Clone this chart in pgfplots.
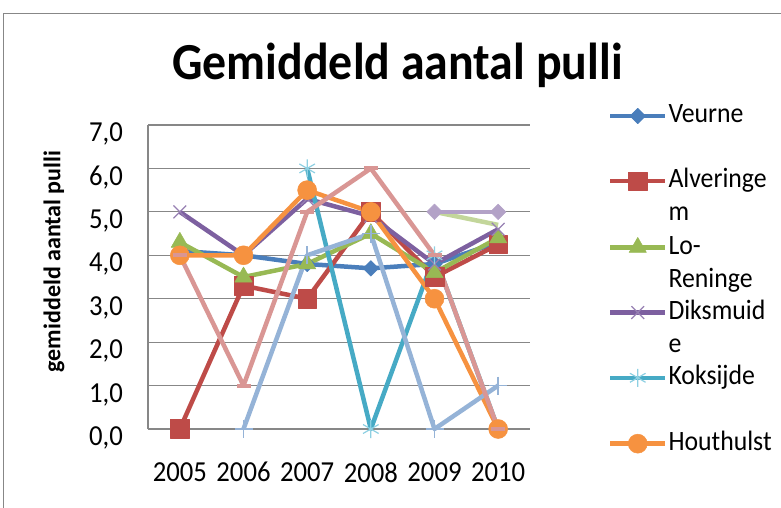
\documentclass[border=0pt]{standalone}
\usepackage{fontspec}
\setmainfont{Carlito}[FakeStretch=0.92]
\newfontfamily\ylabfont{Carlito}
\usepackage{pgfplots}
\pgfplotsset{compat=1.18}
\definecolor{cVeurne}{HTML}{4A7EBB}
\definecolor{cAlver}{HTML}{BE4B48}
\definecolor{cLo}{HTML}{98B954}
\definecolor{cDiks}{HTML}{7D60A0}
\definecolor{cKoks}{HTML}{46AAC5}
\definecolor{cKoksM}{HTML}{8ED0E2}
\definecolor{cHout}{HTML}{F69240}
\definecolor{cS7}{HTML}{95B3D7}
\definecolor{cS8}{HTML}{D99694}
\definecolor{cS9}{HTML}{C3D69B}
\definecolor{cS10}{HTML}{B3A2C7}
\definecolor{gridgray}{HTML}{878787}
\newcommand\lgd[2]{\begin{tabular}[t]{@{}l@{}}#1\\#2\end{tabular}}
\begin{document}
\begin{tikzpicture}[x=1pt,y=1pt]
\useasboundingbox (0,0) rectangle (781,507);
\draw[color=gridgray, line width=1.5pt] (3.5,-5) -- (3.5,493.5) -- (790,493.5);
\node[anchor=base, font=\fontsize{52}{53}\selectfont\bfseries] at (397.5,427) {Gemiddeld aantal pulli};
\begin{axis}[
  at={(148pt,78pt)}, anchor=south west, scale only axis,
  width=382pt, height=304pt,
  xmin=2004.5, xmax=2010.5, ymin=0, ymax=7,
  xtick={2005,2006,2007,2008,2009,2010},
  xticklabels={2005,2006,2007,2008,2009,2010},
  ytick={0,1,2,3,4,5,6,7},
  axis lines*=left,
  major tick length=0pt,
  ymajorgrids,
  grid style={color=gridgray, line width=1.1pt},
  axis line style={color=gridgray, line width=1.1pt},
  clip=false,
  tick label style={font=\fontsize{29}{30}\selectfont, /pgf/number format/assume math mode=true},
  yticklabel style={anchor=east, inner sep=0pt, xshift=-25pt, yshift=-9pt,
    /pgf/number format/.cd, fixed, fixed zerofill, precision=1, use comma},
  xticklabel style={anchor=north, inner sep=0pt, yshift=-33pt},
  ylabel={gemiddeld aantal pulli},
  ylabel style={at={(axis description cs:-0.2461,0.551)}, anchor=center,
    font=\ylabfont\fontsize{24}{25}\selectfont\bfseries},
  legend image code/.code={\draw[yshift=-4pt,mark repeat=2,mark phase=2,#1] plot coordinates {(0pt,0pt)(27.5pt,0pt)(55pt,0pt)};},
  legend style={at={(axis description cs:1.2042,1.0833)}, anchor=north west,
    draw=none, fill=none, inner sep=0pt, outer sep=0pt, row sep=40.6pt, column sep=1pt,
    font=\fontsize{28}{33}\selectfont, nodes={inner sep=0pt}},
  legend cell align=left,
  every axis plot/.append style={line width=4.5pt, line join=round},
]
\addplot[color=cVeurne, mark=square*, mark size=5.5pt, mark options={rotate=45, line width=0.5pt, fill=cVeurne}]
  coordinates {(2005,4.1) (2006,4.0) (2007,3.8) (2008,3.7) (2009,3.8) (2010,4.3)};
\addlegendentry{\lgd{Veurne}{}}
\addplot[color=cAlver, mark=square*, mark size=9.3pt, mark options={line width=0.5pt, fill=cAlver}]
  coordinates {(2005,0.0) (2006,3.3) (2007,3.0) (2008,5.0) (2009,3.5) (2010,4.25)};
\addlegendentry{\lgd{Alveringe}{m}}
\addplot[color=cLo, mark=triangle*, mark size=10pt, mark options={line width=0.5pt, fill=cLo}]
  coordinates {(2005,4.3) (2006,3.5) (2007,3.8) (2008,4.5) (2009,3.6) (2010,4.4)};
\addlegendentry{\lgd{Lo-}{Reninge}}
\addplot[color=cDiks, mark=x, mark size=9pt, mark options={line width=1.2pt, color=cDiks!80}]
  coordinates {(2005,5.0) (2006,4.0) (2007,5.3) (2008,4.9) (2009,3.8) (2010,4.6)};
\addlegendentry{\lgd{Diksmuid}{e}}
\addplot[color=cKoks, mark=asterisk, mark size=9pt, mark options={line width=1.2pt, color=cKoksM}]
  coordinates {(2007,6.0) (2008,0.0) (2009,4.0) (2010,0.0)};
\addlegendentry{\lgd{Koksijde}{}}
\addplot[color=cHout, mark=*, mark size=9.5pt, mark options={line width=0.5pt, fill=cHout}]
  coordinates {(2005,4.0) (2006,4.0) (2007,5.5) (2008,5.0) (2009,3.0) (2010,0.0)};
\addlegendentry{\lgd{Houthulst}{}}
\addplot[forget plot, color=cS7, mark=+, mark size=9pt, mark options={line width=1.5pt}]
  coordinates {(2006,0.0) (2007,4.0) (2008,4.5) (2009,0.0) (2010,1.0)};
\addplot[forget plot, color=cS8, mark=-, mark size=7pt, mark options={line width=4pt}]
  coordinates {(2005,4.0) (2006,1.0) (2007,5.0) (2008,6.0) (2009,4.0) (2010,0.0)};
\addplot[forget plot, color=cS9, mark=none]
  coordinates {(2009,5.0) (2010,4.7)};
\addplot[forget plot, color=cS10, mark=square*, mark size=5.5pt, mark options={rotate=45, line width=0.5pt, fill=cS10}]
  coordinates {(2009,5.0) (2010,5.0)};
\end{axis}
\end{tikzpicture}
\end{document}
